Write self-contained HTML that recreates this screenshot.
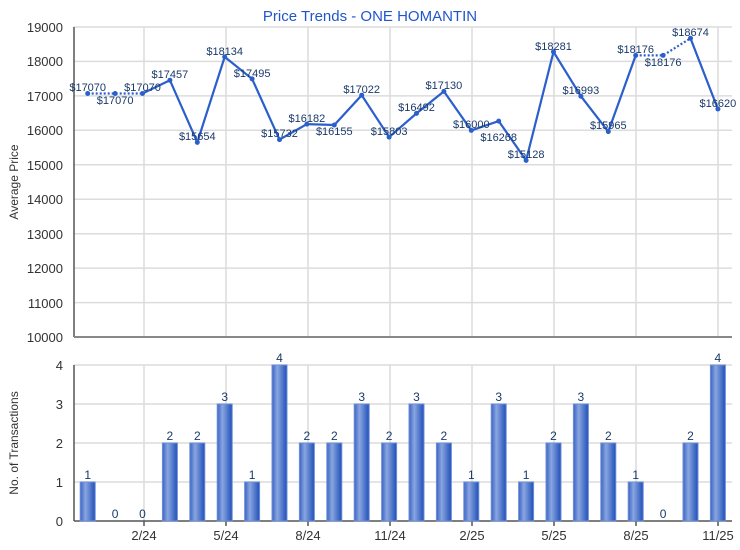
<!DOCTYPE html>
<html><head><meta charset="utf-8"><style>
body{margin:0;background:#fff}
svg{display:block;font-family:"Liberation Sans",sans-serif}
</style></head><body>
<svg width="740" height="550" viewBox="0 0 740 550">
<defs>
<linearGradient id="bg" x1="0" x2="1" y1="0" y2="0">
<stop offset="0" stop-color="#3a62c4"/><stop offset="0.35" stop-color="#8aa6e0"/><stop offset="1" stop-color="#1f4fb8"/>
</linearGradient>
</defs>
<text x="370" y="21" text-anchor="middle" font-size="15" fill="#2255cc">Price Trends - ONE HOMANTIN</text>
<g stroke="#dcdcdc" stroke-width="1.5">
<line x1="74" x2="732" y1="27" y2="27"/><line x1="74" x2="732" y1="61.4" y2="61.4"/><line x1="74" x2="732" y1="95.9" y2="95.9"/><line x1="74" x2="732" y1="130.3" y2="130.3"/><line x1="74" x2="732" y1="164.8" y2="164.8"/><line x1="74" x2="732" y1="199.2" y2="199.2"/><line x1="74" x2="732" y1="233.7" y2="233.7"/><line x1="74" x2="732" y1="268.1" y2="268.1"/><line x1="74" x2="732" y1="302.6" y2="302.6"/>
<line x1="74" x2="732" y1="365" y2="365"/><line x1="74" x2="732" y1="404" y2="404"/><line x1="74" x2="732" y1="443" y2="443"/><line x1="74" x2="732" y1="482" y2="482"/>
<g>
<line x1="144" x2="144" y1="27" y2="337"/><line x1="226" x2="226" y1="27" y2="337"/><line x1="308" x2="308" y1="27" y2="337"/><line x1="390" x2="390" y1="27" y2="337"/><line x1="472" x2="472" y1="27" y2="337"/><line x1="554" x2="554" y1="27" y2="337"/><line x1="636" x2="636" y1="27" y2="337"/><line x1="718" x2="718" y1="27" y2="337"/>
<line x1="144" x2="144" y1="365" y2="521"/><line x1="226" x2="226" y1="365" y2="521"/><line x1="308" x2="308" y1="365" y2="521"/><line x1="390" x2="390" y1="365" y2="521"/><line x1="472" x2="472" y1="365" y2="521"/><line x1="554" x2="554" y1="365" y2="521"/><line x1="636" x2="636" y1="365" y2="521"/><line x1="718" x2="718" y1="365" y2="521"/>
</g></g>
<g stroke="#555" stroke-width="1.5">
<line x1="74" x2="74" y1="27" y2="337"/><line x1="74" x2="732" y1="337" y2="337" stroke="#888" stroke-width="2"/>
<line x1="74" x2="74" y1="365" y2="521"/><line x1="74" x2="732" y1="521" y2="521"/>
<line x1="144" x2="144" y1="521" y2="526"/><line x1="226" x2="226" y1="521" y2="526"/><line x1="308" x2="308" y1="521" y2="526"/><line x1="390" x2="390" y1="521" y2="526"/><line x1="472" x2="472" y1="521" y2="526"/><line x1="554" x2="554" y1="521" y2="526"/><line x1="636" x2="636" y1="521" y2="526"/><line x1="718" x2="718" y1="521" y2="526"/>
</g>
<g font-size="13" fill="#333" text-anchor="end">
<text x="63" y="32">19000</text><text x="63" y="66">18000</text><text x="63" y="101">17000</text><text x="63" y="135">16000</text><text x="63" y="170">15000</text><text x="63" y="204">14000</text><text x="63" y="239">13000</text><text x="63" y="273">12000</text><text x="63" y="308">11000</text><text x="63" y="342">10000</text>
<text x="63" y="370">4</text><text x="63" y="409">3</text><text x="63" y="448">2</text><text x="63" y="487">1</text><text x="63" y="526">0</text>
</g>
<g font-size="13" fill="#333" text-anchor="middle">
<text x="144" y="540">2/24</text><text x="226" y="540">5/24</text><text x="308" y="540">8/24</text><text x="390" y="540">11/24</text><text x="472" y="540">2/25</text><text x="554" y="540">5/25</text><text x="636" y="540">8/25</text><text x="718" y="540">11/25</text>
</g>
<text transform="translate(18,182) rotate(-90)" font-size="12" fill="#333" text-anchor="middle">Average Price</text>
<text transform="translate(18,443) rotate(-90)" font-size="12" fill="#333" text-anchor="middle">No. of Transactions</text>
<g fill="url(#bg)" stroke="#6f8fd8" stroke-width="1">
<rect x="80.2" y="482" width="15" height="39"/>
<rect x="162.4" y="443" width="15" height="78"/><rect x="189.8" y="443" width="15" height="78"/><rect x="217.2" y="404" width="15" height="117"/><rect x="244.6" y="482" width="15" height="39"/><rect x="272" y="365" width="15" height="156"/><rect x="299.4" y="443" width="15" height="78"/><rect x="326.8" y="443" width="15" height="78"/><rect x="354.2" y="404" width="15" height="117"/><rect x="381.6" y="443" width="15" height="78"/><rect x="409" y="404" width="15" height="117"/><rect x="436.4" y="443" width="15" height="78"/><rect x="463.8" y="482" width="15" height="39"/><rect x="491.2" y="404" width="15" height="117"/><rect x="518.6" y="482" width="15" height="39"/><rect x="546" y="443" width="15" height="78"/><rect x="573.4" y="404" width="15" height="117"/><rect x="600.8" y="443" width="15" height="78"/><rect x="628.2" y="482" width="15" height="39"/><rect x="683" y="443" width="15" height="78"/><rect x="710.4" y="365" width="15" height="156"/>
</g>
<g font-size="12" fill="#1a3a6a" text-anchor="middle">
<text x="87.7" y="479">1</text><text x="115.1" y="518">0</text><text x="142.5" y="518">0</text><text x="169.9" y="440">2</text><text x="197.3" y="440">2</text><text x="224.7" y="401">3</text><text x="252.1" y="479">1</text><text x="279.5" y="362">4</text><text x="306.9" y="440">2</text><text x="334.3" y="440">2</text><text x="361.7" y="401">3</text><text x="389.1" y="440">2</text><text x="416.5" y="401">3</text><text x="443.9" y="440">2</text><text x="471.3" y="479">1</text><text x="498.7" y="401">3</text><text x="526.1" y="479">1</text><text x="553.5" y="440">2</text><text x="580.9" y="401">3</text><text x="608.3" y="440">2</text><text x="635.7" y="479">1</text><text x="663.1" y="518">0</text><text x="690.5" y="440">2</text><text x="717.9" y="362">4</text>
</g>
<g stroke="#2a5fcc" stroke-width="2.2" fill="none">
<polyline points="87.7,93.5 115.1,93.5 142.5,93.5" stroke-dasharray="2,2"/>
<polyline points="142.5,93.5 169.9,80.2 197.3,142.3 224.7,56.9 252.1,78.9 279.5,139.6 306.9,124.1 334.3,125 361.7,95.2 389.1,137.1 416.5,113.4 443.9,91.4 471.3,130.4 498.7,121.1 526.1,160.4 553.5,51.8 580.9,96.2 608.3,131.6 635.7,55.4"/>
<polyline points="635.7,55.4 663.1,55.4 690.5,38.3" stroke-dasharray="2,2"/>
<polyline points="690.5,38.3 717.9,109"/>
</g>
<g fill="#2a5fcc">
<circle cx="87.7" cy="93.5" r="2.5"/><circle cx="115.1" cy="93.5" r="2.5"/><circle cx="142.5" cy="93.5" r="2.5"/><circle cx="169.9" cy="80.2" r="2.5"/><circle cx="197.3" cy="142.3" r="2.5"/><circle cx="224.7" cy="56.9" r="2.5"/><circle cx="252.1" cy="78.9" r="2.5"/><circle cx="279.5" cy="139.6" r="2.5"/><circle cx="306.9" cy="124.1" r="2.5"/><circle cx="334.3" cy="125" r="2.5"/><circle cx="361.7" cy="95.2" r="2.5"/><circle cx="389.1" cy="137.1" r="2.5"/><circle cx="416.5" cy="113.4" r="2.5"/><circle cx="443.9" cy="91.4" r="2.5"/><circle cx="471.3" cy="130.4" r="2.5"/><circle cx="498.7" cy="121.1" r="2.5"/><circle cx="526.1" cy="160.4" r="2.5"/><circle cx="553.5" cy="51.8" r="2.5"/><circle cx="580.9" cy="96.2" r="2.5"/><circle cx="608.3" cy="131.6" r="2.5"/><circle cx="635.7" cy="55.4" r="2.5"/><circle cx="663.1" cy="55.4" r="2.5"/><circle cx="690.5" cy="38.3" r="2.5"/><circle cx="717.9" cy="109" r="2.5"/>
</g>
<g font-size="11" fill="#1a3a6a" text-anchor="middle">
<text x="87.7" y="91">$17070</text><text x="115.1" y="104">$17070</text><text x="142.5" y="91">$17070</text><text x="169.9" y="78">$17457</text><text x="197.3" y="140">$15654</text><text x="224.7" y="55">$18134</text><text x="252.1" y="77">$17495</text><text x="279.5" y="137">$15732</text><text x="306.9" y="122">$16182</text><text x="334.3" y="135">$16155</text><text x="361.7" y="93">$17022</text><text x="389.1" y="135">$15803</text><text x="416.5" y="111">$16492</text><text x="443.9" y="89">$17130</text><text x="471.3" y="128">$16000</text><text x="498.7" y="141">$16268</text><text x="526.1" y="158">$15128</text><text x="553.5" y="50">$18281</text><text x="580.9" y="94">$16993</text><text x="608.3" y="129">$15965</text><text x="635.7" y="53">$18176</text><text x="663.1" y="66">$18176</text><text x="690.5" y="36">$18674</text><text x="717.9" y="107">$16620</text>
</g>
</svg>
</body></html>
